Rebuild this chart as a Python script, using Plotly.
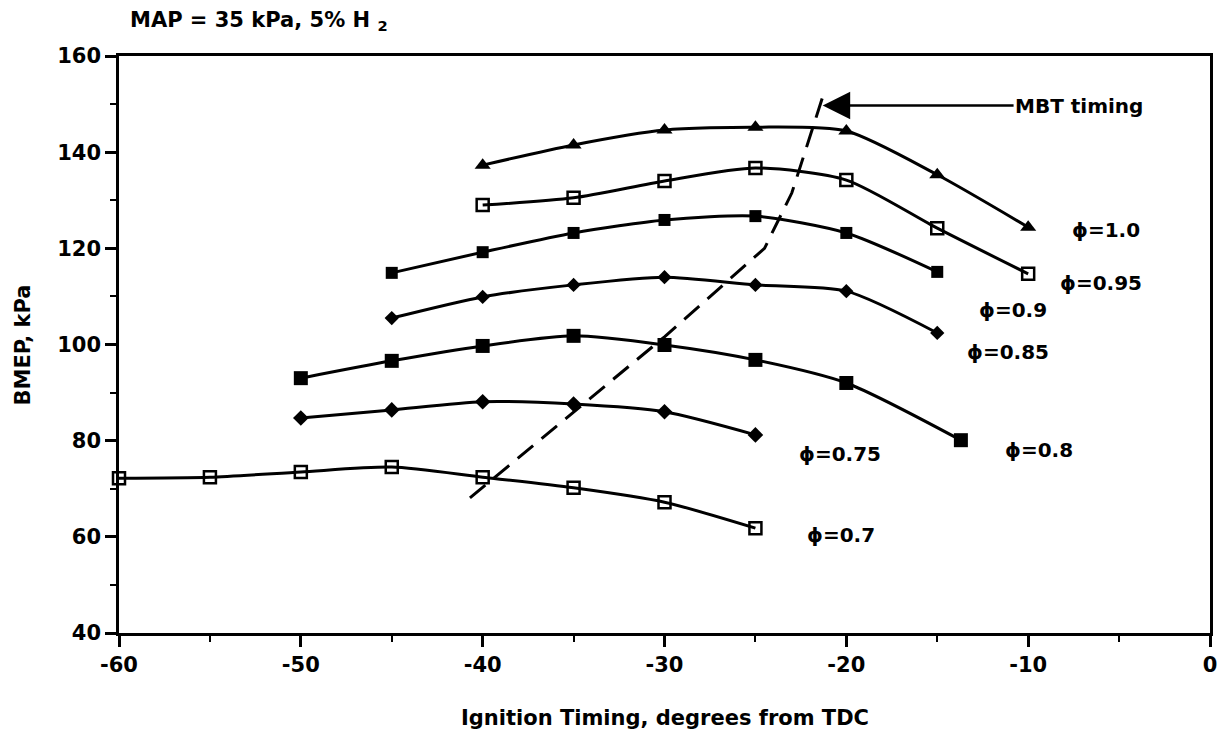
import plotly.graph_objects as go

# ---- data ----
phi_100_x = [-40, -35, -30, -25, -20, -15, -10]
phi_100_y = [137.3, 141.5, 144.6, 145.2, 144.4, 135.3, 124.4]
phi_095_x = [-40, -35, -30, -25, -20, -15, -10]
phi_095_y = [129.0, 130.5, 134.0, 136.7, 134.2, 124.2, 114.7]
phi_090_x = [-45, -40, -35, -30, -25, -20, -15]
phi_090_y = [114.9, 119.2, 123.2, 125.9, 126.7, 123.2, 115.1]
phi_085_x = [-45, -40, -35, -30, -25, -20, -15]
phi_085_y = [105.5, 109.9, 112.4, 114.0, 112.4, 111.1, 102.4]
phi_080_x = [-50, -45, -40, -35, -30, -25, -20, -13.7]
phi_080_y = [93.0, 96.6, 99.7, 101.8, 99.9, 96.8, 92.0, 80.1]
phi_075_x = [-50, -45, -40, -35, -30, -25]
phi_075_y = [84.7, 86.4, 88.1, 87.6, 86.0, 81.2]
phi_070_x = [-60, -55, -50, -45, -40, -35, -30, -25]
phi_070_y = [72.2, 72.4, 73.5, 74.5, 72.4, 70.2, 67.2, 61.8]
mbt_x = [-40.7, -35, -30, -24.5, -23, -21.3]
mbt_y = [68.1, 86.0, 101.6, 120.0, 131.5, 151.5]

series_labels = ["ϕ=1.0", "ϕ=0.95", "ϕ=0.9", "ϕ=0.85", "ϕ=0.8", "ϕ=0.75", "ϕ=0.7"]
x_tickvals = [-60, -50, -40, -30, -20, -10, 0]
x_ticktext = ["-60", "-50", "-40", "-30", "-20", "-10", "0"]
y_tickvals = [40, 60, 80, 100, 120, 140, 160]
y_ticktext = ["40", "60", "80", "100", "120", "140", "160"]

# ---- layout positions of labels (data coords) ----
label_pos = [(-7.7, 123.8), (-8.35, 112.8), (-12.8, 107.2), (-13.5, 98.4),
             (-11.4, 78.1), (-22.7, 77.2), (-22.3, 60.4)]

FONT = "DejaVu Sans"
fig = go.Figure()

styles = [
    (phi_100_x, phi_100_y, "triangle-up", 14, 0),
    (phi_095_x, phi_095_y, "square-open", 12, 2.5),
    (phi_090_x, phi_090_y, "square", 12, 0),
    (phi_085_x, phi_085_y, "diamond", 11, 0),
    (phi_080_x, phi_080_y, "square", 14, 0),
    (phi_075_x, phi_075_y, "diamond", 12, 0),
    (phi_070_x, phi_070_y, "square-open", 12, 2.5),
]
for (xs, ys, sym, sz, lw), name in zip(styles, series_labels):
    fig.add_trace(go.Scatter(
        x=xs, y=ys, mode="lines+markers", name=name,
        line=dict(color="black", width=3, shape="spline", smoothing=0.7),
        marker=dict(symbol=sym, size=sz, color="black",
                    line=dict(color="black", width=lw)),
        cliponaxis=False, showlegend=False))

fig.add_trace(go.Scatter(
    x=mbt_x, y=mbt_y, mode="lines", name="MBT timing",
    line=dict(color="black", width=3, dash="20px,11px"),
    showlegend=False))

annotations = []
for (lx, ly), txt in zip(label_pos, series_labels):
    annotations.append(dict(x=lx, y=ly, xref="x", yref="y", text=txt,
                            showarrow=False, xanchor="left", yanchor="middle",
                            font=dict(family=FONT, size=20, color="black", weight="bold")))

# MBT arrow
annotations.append(dict(x=-21.3, y=149.7, xref="x", yref="y",
                        ax=-7.2, ay=149.7, axref="x", ayref="y",
                        text="MBT timing", showarrow=True,
                        arrowhead=2, arrowsize=2.2, arrowwidth=2.5, arrowcolor="black",
                        font=dict(family=FONT, size=20, color="black", weight="bold")))

# title
annotations.append(dict(x=0.008, y=1.06, xref="paper", yref="paper",
                        text="MAP = 35 kPa, 5% H <sub>2</sub>", showarrow=False,
                        xanchor="left", yanchor="middle",
                        font=dict(family=FONT, size=21, color="black", weight="bold")))
# axis titles
annotations.append(dict(x=-0.088, y=0.5, xref="paper", yref="paper",
                        text="BMEP, kPa", showarrow=False, textangle=-90,
                        xanchor="center", yanchor="middle",
                        font=dict(family=FONT, size=21, color="black", weight="bold")))
annotations.append(dict(x=0.5, y=-0.147, xref="paper", yref="paper",
                        text="Ignition Timing, degrees from TDC", showarrow=False,
                        xanchor="center", yanchor="middle",
                        font=dict(family=FONT, size=21, color="black", weight="bold")))

axis_common = dict(showline=True, linecolor="black", linewidth=2.5, mirror=True,
                   showgrid=False, zeroline=False, ticks="outside", tickcolor="black",
                   tickwidth=2.5, ticklen=11,
                   tickfont=dict(family=FONT, size=21, color="black", weight="bold"))

fig.update_layout(
    width=1228, height=739,
    margin=dict(l=119, r=18, t=56, b=106),
    plot_bgcolor="white", paper_bgcolor="white",
    xaxis=dict(range=[-60, 0], tickmode="array", tickvals=x_tickvals, ticktext=x_ticktext,
               minor=dict(ticks="outside", dtick=5, ticklen=6, tickwidth=2, tickcolor="black"),
               **axis_common),
    yaxis=dict(range=[40, 160], tickmode="array", tickvals=y_tickvals, ticktext=y_ticktext,
               minor=dict(ticks="outside", dtick=10, ticklen=6, tickwidth=2, tickcolor="black"),
               **axis_common),
    annotations=annotations,
)

fig.write_html("out.html")
